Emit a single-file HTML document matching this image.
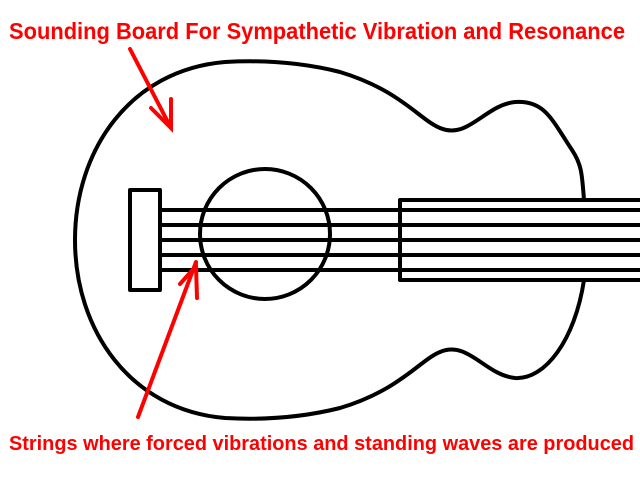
<!DOCTYPE html>
<html><head><style>html,body{margin:0;padding:0;background:#fff;overflow:hidden}</style></head>
<body>
<svg width="640" height="480" viewBox="0 0 640 480" xmlns="http://www.w3.org/2000/svg">
<g fill="none" stroke="#000" stroke-width="4" stroke-linejoin="round">
<path d="M584,200 C582,175 582,165 572,150 C552,120 545,100 515,102 C485,105 468,140 440,128 C420,120 400,90 340,72 C300,62 260,60 225,62 C130,70 75,150 75,240 C75,330 130,410 225,418 C260,420 300,418 340,408 C400,390 420,360 440,352 C468,340 485,375 515,378 C545,380 575,340 584,280"/>
<circle cx="265" cy="234" r="65"/>
<rect x="130" y="190" width="30" height="100" fill="#fff"/>
<rect x="400" y="200" width="250" height="80"/>
<line x1="160" y1="210" x2="640" y2="210"/>
<line x1="160" y1="225" x2="640" y2="225"/>
<line x1="160" y1="240" x2="640" y2="240"/>
<line x1="160" y1="255" x2="640" y2="255"/>
<line x1="160" y1="270" x2="640" y2="270"/>
</g>
<g fill="none" stroke="#f00" stroke-width="4" stroke-linecap="round">
<line x1="130" y1="49" x2="171" y2="128"/>
<polyline points="151,108 171,128 171,99"/>
<line x1="138" y1="417" x2="196" y2="262"/>
<polyline points="180,284 196,266 197,298"/>
</g>
<g fill="#f00" font-family="Liberation Sans, sans-serif" font-weight="bold">
<text x="9" y="39" font-size="23" textLength="616" lengthAdjust="spacingAndGlyphs">Sounding Board For Sympathetic Vibration and Resonance</text>
<text x="9" y="450" font-size="20" textLength="625" lengthAdjust="spacingAndGlyphs">Strings where forced vibrations and standing waves are produced</text>
</g>
</svg>
</body></html>
